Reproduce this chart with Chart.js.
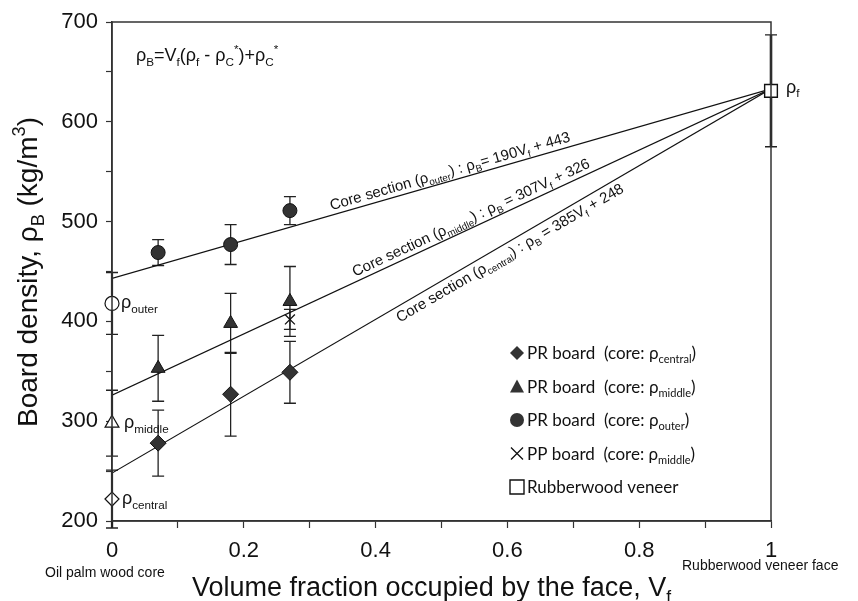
<!DOCTYPE html>
<html>
<head>
<meta charset="utf-8">
<script src="https://cdn.jsdelivr.net/npm/chart.js@4.4.1/dist/chart.umd.min.js"></script>
<style>
  html, body { margin: 0; padding: 0; background: #fff; }
  #wrap { width: 858px; height: 601px; position: relative; }
</style>
</head>
<body>
<div id="wrap"><canvas id="myChart"></canvas></div>
<script>
// tick values
const xTicks = [0, 0.2, 0.4, 0.6, 0.8, 1];
const yTicks = [200, 300, 400, 500, 600, 700];

// PR boards, face volume fraction
const vfPR = [0.07, 0.18, 0.27];
const centralMean = [278, 327, 349];
const centralErr = [33, 42, 31];
const middleMean = [353, 398, 420];
const middleErr = [33, 30, 35];
const outerMean = [469, 477, 511];
const outerErr = [13, 20, 14];

// PP board
const vfPP = [0.27];
const ppMean = [402];
const ppErr = [10];

// core sections alone (Vf = 0)
const coreVf = [0];
const coreOuter = [418];
const coreOuterErr = [31];
const coreMiddle = [298];
const coreMiddleErr = [33];
const coreCentral = [222];
const coreCentralErr = [29];

// rubberwood veneer (Vf = 1)
const veneerVf = [1];
const veneerMean = [631];
const veneerErr = [56];

// fitted lines: central, middle, outer
const fitSlope = [385, 307, 190];
const fitIntercept = [248, 326, 443];

const SANS = '"Liberation Sans", Arial, sans-serif';
const LEG = 'Lato, "Open Sans", sans-serif';
const DARK = '#333';
const INK = '#111';

const pts = (xs, ys) => xs.map((v, i) => ({ x: v, y: ys[i] }));
const fitPts = (k) => [0, 1].map(v => ({ x: v, y: fitIntercept[k] + fitSlope[k] * v }));

// rich text: parts = [text, 'sub' | 'sup' | undefined]
const richWidth = (ctx, parts, size, fam) => {
    let w = 0;
    parts.forEach(([t, k]) => {
        ctx.font = `${k ? size * 0.65 : size}px ${fam}`;
        w += ctx.measureText(t).width;
    });
    return w;
};
const drawRich = (ctx, parts, x, y, size, fam) => {
    let cx = x;
    parts.forEach(([t, k]) => {
        ctx.font = `${k ? size * 0.65 : size}px ${fam}`;
        const dy = k === 'sub' ? size * 0.25 : k === 'sup' ? -size * 0.42 : 0;
        ctx.fillText(t, cx, y + dy);
        cx += ctx.measureText(t).width;
    });
};

// [x, mean, err, line width]
const errorSets = [
    [vfPR, centralMean, centralErr, 1.3],
    [vfPR, middleMean, middleErr, 1.3],
    [vfPR, outerMean, outerErr, 1.3],
    [vfPP, ppMean, ppErr, 1.3],
    [coreVf, coreOuter, coreOuterErr, 2.2],
    [coreVf, coreMiddle, coreMiddleErr, 2.2],
    [coreVf, coreCentral, coreCentralErr, 2.2],
    [veneerVf, veneerMean, veneerErr, 2.6]
];

const errorBars = {
    id: 'errorBars',
    beforeDatasetsDraw(chart) {
        const { ctx, scales: { x, y } } = chart;
        ctx.save();
        ctx.strokeStyle = '#222';
        errorSets.forEach(([xs, ys, es, lw]) => {
            xs.forEach((v, i) => {
                const px = x.getPixelForValue(v);
                const top = y.getPixelForValue(ys[i] + es[i]);
                const bot = y.getPixelForValue(ys[i] - es[i]);
                ctx.lineWidth = lw;
                ctx.beginPath();
                ctx.moveTo(px, top); ctx.lineTo(px, bot);
                ctx.stroke();
                ctx.lineWidth = 1.3;
                ctx.beginPath();
                ctx.moveTo(px - 6, top); ctx.lineTo(px + 6, top);
                ctx.moveTo(px - 6, bot); ctx.lineTo(px + 6, bot);
                ctx.stroke();
            });
        });
        ctx.restore();
    }
};

const drawMarker = (ctx, kind, cx, cy) => {
    ctx.save();
    ctx.fillStyle = DARK;
    ctx.strokeStyle = INK;
    ctx.lineWidth = 1;
    ctx.beginPath();
    if (kind === 'diamond') {
        ctx.moveTo(cx, cy - 7); ctx.lineTo(cx + 7, cy); ctx.lineTo(cx, cy + 7); ctx.lineTo(cx - 7, cy);
        ctx.closePath(); ctx.fill();
    } else if (kind === 'triangle') {
        ctx.moveTo(cx, cy - 7); ctx.lineTo(cx + 7, cy + 6); ctx.lineTo(cx - 7, cy + 6);
        ctx.closePath(); ctx.fill();
    } else if (kind === 'circle') {
        ctx.arc(cx, cy, 7, 0, Math.PI * 2); ctx.fill();
    } else if (kind === 'cross') {
        ctx.moveTo(cx - 6, cy - 6); ctx.lineTo(cx + 6, cy + 6);
        ctx.moveTo(cx + 6, cy - 6); ctx.lineTo(cx - 6, cy + 6);
        ctx.lineWidth = 1.3; ctx.stroke();
    } else {
        ctx.fillStyle = '#fff';
        ctx.rect(cx - 7, cy - 7, 14, 14); ctx.fill(); ctx.lineWidth = 1.4; ctx.stroke();
    }
    ctx.restore();
};

const lineLabels = [
    { k: 2, v0: 0.335, off: -5, parts: [['Core section ('], ['ρ'], ['outer', 'sub'], [') : ρ'], ['B', 'sub'], ['= 190V'], ['f', 'sub'], [' + 443']] },
    { k: 1, v0: 0.372, off: -5, parts: [['Core section ('], ['ρ'], ['middle', 'sub'], [') : ρ'], ['B', 'sub'], [' = 307V'], ['f', 'sub'], [' + 326']] },
    { k: 0, v0: 0.425, off: 15, parts: [['Core section ('], ['ρ'], ['central', 'sub'], [') : ρ'], ['B', 'sub'], [' = 385V'], ['f', 'sub'], [' + 248']] }
];

const legendRows = [
    ['diamond', [['PR board  (core: ρ'], ['central', 'sub'], [')']]],
    ['triangle', [['PR board  (core: ρ'], ['middle', 'sub'], [')']]],
    ['circle', [['PR board  (core: ρ'], ['outer', 'sub'], [')']]],
    ['cross', [['PP board  (core: ρ'], ['middle', 'sub'], [')']]],
    ['square', [['Rubberwood veneer']]]
];

const annotations = {
    id: 'annotations',
    afterDraw(chart) {
        const { ctx, chartArea: a, scales: { x, y } } = chart;
        ctx.save();
        // frame
        ctx.strokeStyle = '#333';
        ctx.lineWidth = 1.5;
        ctx.strokeRect(a.left, a.top, a.right - a.left, a.bottom - a.top);

        ctx.fillStyle = '#111';
        ctx.textBaseline = 'alphabetic';

        // formula
        drawRich(ctx, [['ρ'], ['B', 'sub'], ['=V'], ['f', 'sub'], ['(ρ'], ['f', 'sub'], [' - ρ'], ['C', 'sub'], ['*', 'sup'], [')+ρ'], ['C', 'sub'], ['*', 'sup']], 136, 61, 18, SANS);

        // labels at the ends
        drawRich(ctx, [['ρ'], ['outer', 'sub']], x.getPixelForValue(0) + 9, y.getPixelForValue(coreOuter[0]) + 5, 18, SANS);
        drawRich(ctx, [['ρ'], ['middle', 'sub']], x.getPixelForValue(0) + 12, y.getPixelForValue(coreMiddle[0]) + 5, 18, SANS);
        drawRich(ctx, [['ρ'], ['central', 'sub']], x.getPixelForValue(0) + 10, y.getPixelForValue(coreCentral[0]) + 5, 18, SANS);
        drawRich(ctx, [['ρ'], ['f', 'sub']], x.getPixelForValue(1) + 15, y.getPixelForValue(veneerMean[0]) + 2, 18, SANS);

        // labels along the fitted lines
        lineLabels.forEach(({ k, v0, off, parts }) => {
            const x0 = x.getPixelForValue(0), y0 = y.getPixelForValue(fitIntercept[k]);
            const x1 = x.getPixelForValue(1), y1 = y.getPixelForValue(fitIntercept[k] + fitSlope[k]);
            const ang = Math.atan2(y1 - y0, x1 - x0);
            const px = x.getPixelForValue(v0);
            const py = y.getPixelForValue(fitIntercept[k] + fitSlope[k] * v0);
            ctx.save();
            ctx.translate(px, py);
            ctx.rotate(ang);
            drawRich(ctx, parts, 0, off, 15, SANS);
            ctx.restore();
        });

        // legend
        legendRows.forEach(([kind, parts], i) => {
            const ry = 353 + i * 33.5;
            drawMarker(ctx, kind, 517, ry);
            ctx.fillStyle = '#111';
            drawRich(ctx, parts, 527, ry + 6, 17, LEG);
        });

        // axis titles
        ctx.fillStyle = '#111';
        const yt = [['Board density, ρ'], ['B', 'sub'], [' (kg/m'], ['3', 'sup'], [')']];
        const yw = richWidth(ctx, yt, 28, SANS);
        ctx.save();
        ctx.translate(37, 272);
        ctx.rotate(-Math.PI / 2);
        drawRich(ctx, yt, -yw / 2, 0, 28, SANS);
        ctx.restore();

        const xt = [['Volume fraction occupied by the face, V'], ['f', 'sub']];
        drawRich(ctx, xt, 192, 596, 27, SANS);

        ctx.font = `14px ${SANS}`;
        ctx.fillText('Oil palm wood core', 45, 577);
        ctx.fillText('Rubberwood veneer face', 682, 570);
        ctx.restore();
    }
};

const ctx = document.getElementById('myChart');

new Chart(ctx, {
    type: 'scatter',
    data: {
        datasets: [
            { label: 'PR central', data: pts(vfPR, centralMean), pointStyle: 'rectRot', pointRadius: 8, backgroundColor: DARK, borderColor: INK, borderWidth: 1, order: 0 },
            { label: 'PR middle', data: pts(vfPR, middleMean), pointStyle: 'triangle', pointRadius: 8, backgroundColor: DARK, borderColor: INK, borderWidth: 1, order: 0 },
            { label: 'PR outer', data: pts(vfPR, outerMean), pointStyle: 'circle', pointRadius: 7, backgroundColor: DARK, borderColor: INK, borderWidth: 1, order: 0 },
            { label: 'PP middle', data: pts(vfPP, ppMean), pointStyle: 'crossRot', pointRadius: 7, borderColor: INK, borderWidth: 1.3, order: 0 },
            { label: 'core outer', data: pts(coreVf, coreOuter), pointStyle: 'circle', pointRadius: 7, backgroundColor: '#fff', borderColor: INK, borderWidth: 1.2, order: 0, clip: false },
            { label: 'core middle', data: pts(coreVf, coreMiddle), pointStyle: 'triangle', pointRadius: 8, backgroundColor: '#fff', borderColor: INK, borderWidth: 1.2, order: 0, clip: false },
            { label: 'core central', data: pts(coreVf, coreCentral), pointStyle: 'rectRot', pointRadius: 7, backgroundColor: '#fff', borderColor: INK, borderWidth: 1.2, order: 0, clip: false },
            { label: 'veneer', data: pts(veneerVf, veneerMean), pointStyle: 'rect', pointRadius: 9, backgroundColor: '#fff', borderColor: INK, borderWidth: 1.4, order: 0, clip: false },
            { label: 'fit central', data: fitPts(0), type: 'line', showLine: true, pointRadius: 0, borderColor: INK, borderWidth: 1.2, order: 1 },
            { label: 'fit middle', data: fitPts(1), type: 'line', showLine: true, pointRadius: 0, borderColor: INK, borderWidth: 1.2, order: 1 },
            { label: 'fit outer', data: fitPts(2), type: 'line', showLine: true, pointRadius: 0, borderColor: INK, borderWidth: 1.2, order: 1 }
        ]
    },
    options: {
        responsive: true,
        maintainAspectRatio: false,
        animation: false,
        layout: { padding: { top: 22, right: 87, left: 0, bottom: 0 } },
        plugins: {
            legend: { display: false },
            tooltip: { enabled: false }
        },
        scales: {
            x: {
                type: 'linear',
                min: 0,
                max: 1,
                afterFit: (s) => { s.height = 80; },
                afterBuildTicks: (s) => { s.ticks = [0, 0.1, 0.2, 0.3, 0.4, 0.5, 0.6, 0.7, 0.8, 0.9, 1].map(v => ({ value: v })); },
                ticks: {
                    padding: 10,
                    color: '#111',
                    font: { family: SANS, size: 22 },
                    maxRotation: 0,
                    autoSkip: false,
                    callback: (v) => xTicks.some(t => Math.abs(t - v) < 1e-9) ? String(+v.toFixed(1)) : ''
                },
                grid: { drawOnChartArea: false, tickLength: 7, tickColor: '#333', tickWidth: 1.2 },
                border: { color: '#333', width: 1.5 }
            },
            y: {
                type: 'linear',
                min: 200,
                max: 700,
                afterFit: (s) => { s.width = 112; },
                afterBuildTicks: (s) => { s.ticks = [200, 250, 300, 350, 400, 450, 500, 550, 600, 650, 700].map(v => ({ value: v })); },
                ticks: {
                    padding: 8,
                    color: '#111',
                    font: { family: SANS, size: 22 },
                    autoSkip: false,
                    callback: (v) => yTicks.includes(v) ? String(v) : ''
                },
                grid: { drawOnChartArea: false, tickLength: 6, tickColor: '#333', tickWidth: 1.2 },
                border: { color: '#333', width: 1.5 }
            }
        }
    },
    plugins: [errorBars, annotations]
});
</script>
</body>
</html>
